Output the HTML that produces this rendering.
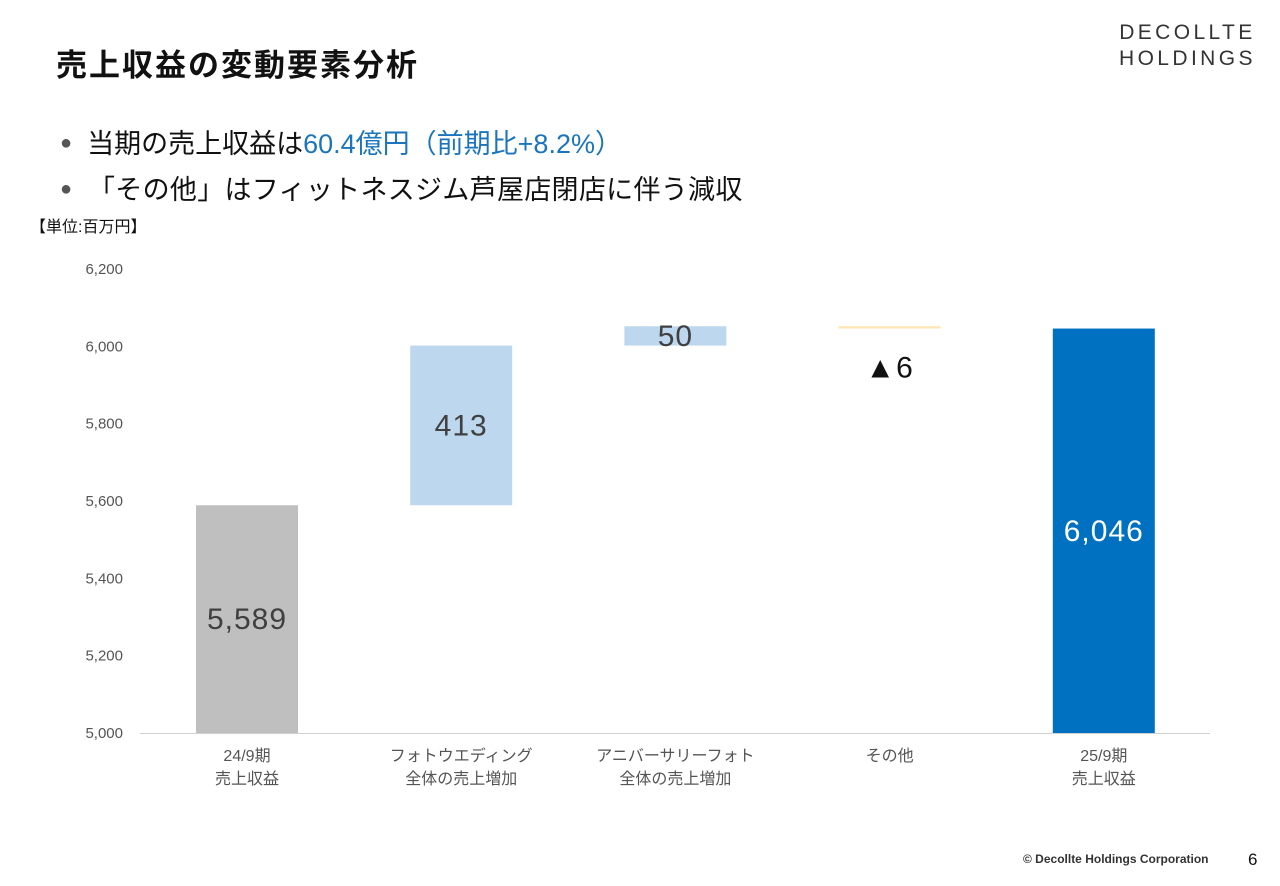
<!DOCTYPE html>
<html><head><meta charset="utf-8">
<style>
body{margin:0;width:1280px;height:886px;background:#fff;font-family:"Liberation Sans","Noto Sans CJK JP",sans-serif;position:relative;overflow:hidden}
.abs{position:absolute;white-space:nowrap}
</style></head>
<body>
<div class="abs" style="left:56px;top:40px;font-size:31px;font-weight:bold;color:#111;letter-spacing:2px">売上収益の変動要素分析</div>
<div class="abs" style="left:1119px;top:20px;font-size:21px;letter-spacing:3.4px;line-height:26px;color:#333;text-align:center">DECOLLTE<br>HOLDINGS</div>
<div class="abs" style="left:60px;top:122px;font-size:27px;color:#111"><span style="color:#555;font-size:20px;vertical-align:4px">●</span>&nbsp; 当期の売上収益は<span style="color:#1a75bc">60.4億円（前期比+8.2%）</span></div>
<div class="abs" style="left:60px;top:168px;font-size:27px;color:#111;letter-spacing:0.3px"><span style="color:#555;font-size:20px;vertical-align:4px">●</span>&nbsp; 「その他」はフィットネスジム芦屋店閉店に伴う減収</div>
<div class="abs" style="left:30px;top:213px;font-size:16px;color:#111">【単位:百万円】</div>
<svg id="chart" width="1280" height="886" style="position:absolute;left:0;top:0"></svg>
<div class="abs" style="left:1023px;top:852px;font-size:12px;font-weight:bold;color:#333">© Decollte Holdings Corporation</div>
<div class="abs" style="left:1248px;top:850px;font-size:17px;color:#111">6</div>
<script>
const categories=[["24/9期","売上収益"],["フォトウエディング","全体の売上増加"],["アニバーサリーフォト","全体の売上増加"],["その他",""],["25/9期","売上収益"]];
const deltas=[5589,413,50,-6,6046];
const labels=["5,589","413","50","▲6","6,046"];
const types=["total","delta","delta","delta","total"];
const ticks=[5000,5200,5400,5600,5800,6000,6200];
const NS="http://www.w3.org/2000/svg";
const svg=document.getElementById('chart');
const y=v=>733-(v-5000)*464/1200;
const xc=i=>247+i*214.2;
function el(t,a,txt){const e=document.createElementNS(NS,t);for(const k in a)e.setAttribute(k,a[k]);if(txt!=null)e.textContent=txt;svg.appendChild(e);return e;}
ticks.forEach(t=>{const e=el('text',{x:123,y:y(t)+5,'text-anchor':'end','font-size':15,fill:'#555'},t.toLocaleString('en-US'));

});
const ax=el('line',{x1:140,x2:1210,y1:733.5,y2:733.5,stroke:'#d0d0d0','stroke-width':1});


let run=0;
deltas.forEach((d,i)=>{
 let a,b,fill,tc;
 if(types[i]==='total'){a=5000;b=d;run=d;fill=i===0?'#bfbfbf':'#0070c0';tc=i===0?'#404040':'#fff';}
 else{a=run;b=run+d;run=b;fill=d<0?'#ffe7b3':'#bdd7ee';tc='#404040';}
 const top=y(Math.max(a,b)),bot=y(Math.min(a,b));
 const r=el('rect',{x:xc(i)-51,y:top,width:102,height:Math.max(bot-top,2),fill:fill});
 
 
 let ly=(top+bot)/2+10, col=tc;
 if(d<0){ly=bot+49;col='#111';}
 const t=el('text',{x:xc(i),y:ly,'text-anchor':'middle','font-size':30,fill:col,'letter-spacing':1},labels[i]);
 
 
 categories[i].forEach((s,j)=>{const c=el('text',{x:xc(i),y:761+j*23,'text-anchor':'middle','font-size':16,fill:'#555'},s);
 
 });
});
</script>
</body></html>
